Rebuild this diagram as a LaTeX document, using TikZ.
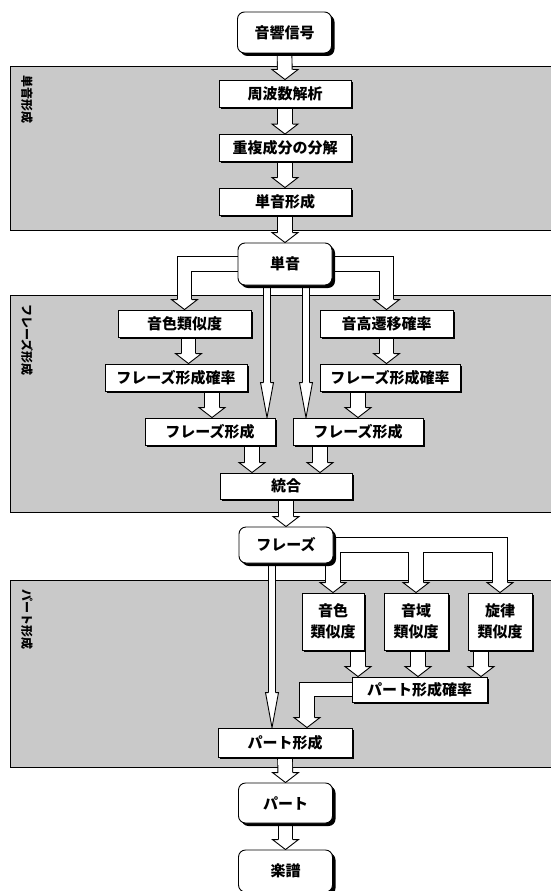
\documentclass[tikz,border=0pt]{standalone}
\usepackage{fontspec}
\newfontfamily\jp{Noto Sans CJK JP}
\usetikzlibrary{shadows,calc}
\pgfdeclarelayer{bands}
\pgfdeclarelayer{arrows}
\pgfsetlayers{bands,arrows,main}

\tikzset{
  box/.style={draw, fill=white, line width=0.9pt, inner sep=0pt, minimum height=27pt,
    font=\jp\bfseries\fontsize{15}{21}\selectfont, align=center,
    drop shadow={shadow xshift=1.5pt, shadow yshift=-1.5pt, fill=black, opacity=1}},
  rbox/.style={box, rounded corners=7pt, minimum width=94pt,
    drop shadow={shadow xshift=3pt, shadow yshift=-3pt, fill=black, opacity=1}},
  band/.style={draw, line width=1pt, fill=black!21},
  bandlabel/.style={rotate=-90, anchor=west, inner sep=0pt, font=\jp\bfseries\fontsize{12}{12}\selectfont},
  bigout/.style={line width=15.6pt, draw=black, shorten >=9.6pt},
  bigin/.style={line width=13.8pt, draw=white, shorten >=9.2pt},
  thinout/.style={line width=8pt, draw=black, shorten >=34.6pt},
  thinin/.style={line width=6.2pt, draw=white, shorten >=34.2pt},
  bighead/.pic={
    \fill[white] (-13,-10) -- (0,0) -- (13,-10) -- cycle;
    \draw[line width=0.9pt] (-7.5,-10) -- (-13,-10) -- (0,0) -- (13,-10) -- (7.5,-10);
  },
  thinhead/.pic={
    \fill[white] (-6.5,-35) -- (0,0) -- (6.5,-35) -- cycle;
    \draw[line width=0.9pt] (-3.6,-35) -- (-6.5,-35) -- (0,0) -- (6.5,-35) -- (3.6,-35);
  },
}

% shafts of the wide arrows
\newcommand\bigpaths[1]{
  \draw[#1] (sig.south) -- (fft.north);
  \draw[#1] (fft.south) -- (dec.north);
  \draw[#1] (dec.south) -- (form1.north);
  \draw[#1] (form1.south) -- (note.north);
  \draw[#1] (note.west) -| (tim.north);
  \draw[#1] (note.east) -| (pit.north);
  \draw[#1] (tA |- tim.south) -- (tA);
  \draw[#1] (tB |- pit.south) -- (tB);
  \draw[#1] (tC |- phpL.south) -- (tC);
  \draw[#1] (phR.north |- phpR.south) -- (phR.north);
  \draw[#1] (tD |- phL.south) -- (tD);
  \draw[#1] (tE |- phR.south) -- (tE);
  \draw[#1] (int.south) -- (phrase.north);
  \draw[#1] (phrase.east) -| (simT.north);
  \draw[#1] (phrase.east) -| (simR.north);
  \draw[#1] (phrase.east) -| (simM.north);
  \draw[#1] (tI |- simT.south) -- (tI);
  \draw[#1] (tJ |- simR.south) -- (tJ);
  \draw[#1] (tK |- simM.south) -- (tK);
  \draw[#1] (ppp.west) -| (tL);
  \draw[#1] (pf.south) -- (part.north);
  \draw[#1] (part.south) -- (score.north);
}
% shafts of the narrow arrows
\newcommand\thinpaths[1]{
  \draw[#1] (tF |- note.south) -- (tF);
  \draw[#1] (tG |- note.south) -- (tG);
  \draw[#1] (tH |- phrase.south) -- (tH);
}

\begin{document}
\begin{tikzpicture}[x=1pt,y=-1pt]
\useasboundingbox (0,0) rectangle (551,891);

% stages
\begin{pgfonlayer}{bands}
\draw[band] (10,67) rectangle (554,230);
\draw[band] (10,295) rectangle (554,512);
\draw[band] (10,580) rectangle (554,767);
\end{pgfonlayer}
\node[bandlabel] (lab1) at (27,75) {単音形成};
\node[bandlabel] (lab2) at (27,304) {フレーズ形成};
\node[bandlabel] (lab3) at (27,589) {パート形成};

% single notes
\node[rbox, minimum height=41pt] (sig) at (284.5,32.5) {音響信号};
\node[box, minimum width=132pt] (fft) at (285,93.5) {周波数解析};
\node[box, minimum width=132pt] (dec) at (285,148) {重複成分の分解};
\node[box, minimum width=132pt] (form1) at (285,201.5) {単音形成};
\node[rbox, minimum height=42pt] (note) at (285,264) {単音};

% phrases
\node[box, minimum width=133pt] (tim) at (184.5,323.5) {音色類似度};
\node[box, minimum width=133pt] (pit) at (386.5,323.5) {音高遷移確率};
\node[box, minimum width=142pt] (phpL) at (176,377.5) {フレーズ形成確率};
\node[box, minimum width=140pt] (phpR) at (390,377.5) {フレーズ形成確率};
\node[box, minimum width=130pt] (phL) at (210,431.5) {フレーズ形成};
\node[box, minimum width=130pt] (phR) at (358,431.5) {フレーズ形成};
\node[box, minimum width=132pt, minimum height=26pt] (int) at (286,486) {統合};
\node[rbox, minimum height=36pt] (phrase) at (286,545) {フレーズ};

% parts
\node[box, minimum width=62pt, minimum height=57pt] (simT) at (333,621.5) {音色\\類似度};
\node[box, minimum width=64pt, minimum height=57pt] (simR) at (416,621.5) {音域\\類似度};
\node[box, minimum width=64pt, minimum height=57pt] (simM) at (500,621.5) {旋律\\類似度};
\node[box, minimum width=135pt, minimum height=25pt] (ppp) at (419.5,689.5) {パート形成確率};
\node[box, minimum width=134pt, minimum height=29pt] (pf) at (285,742.5) {パート形成};
\node[rbox, minimum height=40pt] (part) at (285.5,803) {パート};
\node[rbox, minimum height=42pt] (score) at (285.5,871) {楽譜};

% arrow tips
\coordinate (tA) at ([xshift=4pt]tim.south |- phpL.north);
\coordinate (tB) at (pit.south |- phpR.north);
\coordinate (tC) at ([xshift=2pt]phL.north);
\coordinate (tD) at ([xshift=42pt]phL.south |- int.north);
\coordinate (tE) at ([xshift=-38pt]phR.south |- int.north);
\coordinate (tF) at ([xshift=-18pt]note.south |- phL.north);
\coordinate (tG) at ([xshift=21pt]note.south |- phR.north);
\coordinate (tH) at ([xshift=-14pt]phrase.south |- pf.north);
\coordinate (tI) at ([xshift=25pt]simT.south |- ppp.north);
\coordinate (tJ) at ([xshift=2pt]simR.south |- ppp.north);
\coordinate (tK) at ([xshift=-19pt]simM.south |- ppp.north);
\coordinate (tL) at ([xshift=22pt]pf.north);

\begin{pgfonlayer}{arrows}
\bigpaths{bigout}
\thinpaths{thinout}
\bigpaths{bigin}
\thinpaths{thinin}
\foreach \t in {fft.north,dec.north,form1.north,note.north,tim.north,pit.north,
  tA,tB,tC,phR.north,tD,tE,phrase.north,simT.north,simR.north,simM.north,
  tI,tJ,tK,tL,part.north,score.north}
  \pic at (\t) {bighead};
\foreach \t in {tF,tG,tH}
  \pic at (\t) {thinhead};
\end{pgfonlayer}

\end{tikzpicture}
\end{document}
